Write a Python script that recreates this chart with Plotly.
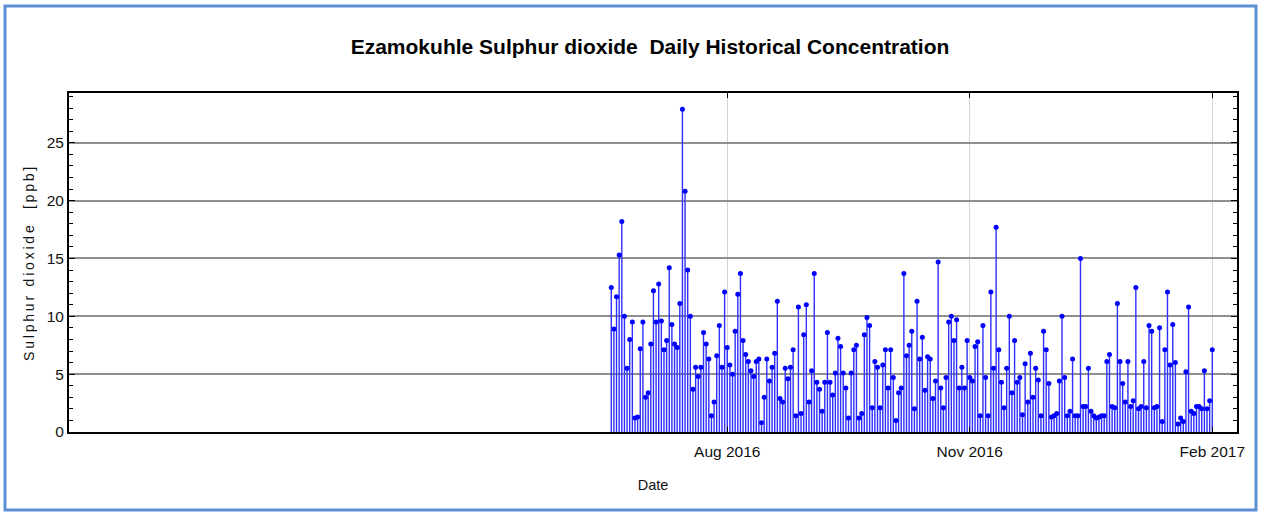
import pandas as pd
import plotly.graph_objects as go

# ---------------- data ----------------
start_date = "2016-06-18"
so2_ppb = [
    12.5, 8.9, 11.7, 15.3, 18.2, 10.0, 5.5, 8.0, 9.5, 1.2,
    1.3, 7.2, 9.5, 3.0, 3.4, 7.6, 12.2, 9.5, 12.8, 9.6,
    7.1, 7.9, 14.2, 9.3, 7.6, 7.3, 11.1, 27.9, 20.8, 14.0,
    10.0, 3.7, 5.6, 4.8, 5.6, 8.6, 7.6, 6.3, 1.4, 2.6,
    6.6, 9.2, 5.6, 12.1, 7.3, 5.8, 5.0, 8.7, 11.9, 13.7,
    7.9, 6.7, 6.1, 5.3, 4.8, 6.1, 6.3, 0.8, 3.0, 6.3,
    4.4, 5.6, 6.8, 11.3, 2.9, 2.6, 5.5, 4.6, 5.6, 7.1,
    1.4, 10.8, 1.6, 8.4, 11.0, 2.6, 5.3, 13.7, 4.3, 3.7,
    1.8, 4.3, 8.6, 4.3, 3.2, 5.1, 8.1, 7.4, 5.1, 3.8,
    1.2, 5.1, 7.1, 7.5, 1.2, 1.6, 8.4, 9.9, 9.2, 2.1,
    6.1, 5.6, 2.1, 5.8, 7.1, 3.8, 7.1, 4.7, 1.0, 3.4,
    3.8, 13.7, 6.6, 7.5, 8.7, 2.0, 11.3, 6.3, 8.2, 3.6,
    6.5, 6.3, 2.9, 4.4, 14.7, 3.8, 2.1, 4.7, 9.5, 10.0,
    7.9, 9.7, 3.8, 5.6, 3.8, 7.9, 4.7, 4.4, 7.4, 7.8,
    1.4, 9.2, 4.7, 1.4, 12.1, 5.5, 17.7, 7.1, 4.3, 2.1,
    5.5, 10.0, 3.4, 7.9, 4.3, 4.7, 1.5, 5.9, 2.6, 6.8,
    3.0, 5.5, 4.5, 1.4, 8.7, 7.1, 4.2, 1.3, 1.4, 1.6,
    4.4, 10.0, 4.7, 1.4, 1.8, 6.3, 1.4, 1.4, 15.0, 2.2,
    2.2, 5.5, 1.8, 1.4, 1.2, 1.3, 1.4, 1.4, 6.1, 6.7,
    2.2, 2.1, 11.1, 6.1, 4.2, 2.6, 6.1, 2.2, 2.7, 12.5,
    2.0, 2.2, 6.1, 2.1, 9.2, 8.7, 2.1, 2.2, 9.0, 0.9,
    7.1, 12.1, 5.8, 9.3, 6.0, 0.7, 1.2, 0.9, 5.2, 10.8,
    1.8, 1.6, 2.2, 2.2, 2.0, 5.3, 2.0, 2.7, 7.1,
]
dates = pd.date_range(start_date, periods=len(so2_ppb), freq="D")

x_tick_vals = ["2016-08-01", "2016-11-01", "2017-02-01"]
x_tick_text = ["Aug 2016", "Nov 2016", "Feb 2017"]
y_tick_vals = [0, 5, 10, 15, 20, 25]

title_text = "Ezamokuhle Sulphur dioxide\u00a0 Daily Historical Concentration"
y_title = "Sulphur dioxide\u00a0 [ppb]"
x_title = "Date"

FONT = "Liberation Sans, Arial, sans-serif"

fig = go.Figure()
fig.add_trace(go.Scatter(
    x=dates, y=so2_ppb, mode="markers",
    marker=dict(color="#0000ff", size=5),
    error_y=dict(type="data", symmetric=False, array=[0] * len(so2_ppb),
                 arrayminus=so2_ppb, width=0, thickness=1.4, color="#2f2fff"),
    showlegend=False,
))

fig.update_layout(
    width=1261, height=513,
    margin=dict(l=69, r=24, t=93, b=81),
    paper_bgcolor="white", plot_bgcolor="white",
    font=dict(family=FONT, color="#111111"),
    title=dict(text=title_text, x=650 / 1261, xref="container", xanchor="center",
               y=1 - 47 / 513, yref="container", yanchor="middle",
               font=dict(size=21, family=FONT, color="#000000", weight="bold")),
    xaxis=dict(
        type="date",
        range=["2015-11-25 07:00", "2017-02-10 09:00"],
        tickvals=x_tick_vals, ticktext=x_tick_text,
        tickfont=dict(size=15.5, color="#111111"),
        ticks="inside", ticklen=5, tickcolor="black", tickwidth=1,
        showline=True, linecolor="black", linewidth=2, mirror="ticks",
        showgrid=True, gridcolor="#d4d4d4", gridwidth=1,
        zeroline=False,
        ticklabelstandoff=4,
        title=dict(text=x_title, font=dict(size=14.5, color="#111111"), standoff=21),
    ),
    yaxis=dict(
        range=[0, 29.3],
        tickvals=y_tick_vals,
        tickfont=dict(size=15.5, color="#111111"),
        ticks="inside", ticklen=6, tickcolor="black", tickwidth=1,
        minor=dict(dtick=1, tick0=0, ticks="inside", ticklen=4, tickcolor="black",
                   tickwidth=1, showgrid=False),
        showline=True, linecolor="black", linewidth=2, mirror="ticks",
        showgrid=True, gridcolor="#8f8f8f", gridwidth=1.5,
        zeroline=False,
        title=dict(text=y_title, font=dict(size=14, color="#111111"), standoff=9),
    ),
    shapes=[dict(type="rect", xref="paper", yref="paper",
                 x0=(5 - 69) / 1168, x1=(1256 - 69) / 1168,
                 y0=(432 - 510) / 339, y1=(432 - 6) / 339,
                 line=dict(color="#5b8fd6", width=3), fillcolor="rgba(0,0,0,0)",
                 layer="below")],
)

post = """
document.body.style.margin='0';
document.querySelectorAll('.ytitle').forEach(function(e){e.style.letterSpacing='2.8px';});
"""
fig.write_html("out.html", config={"displayModeBar": False}, post_script=post)
